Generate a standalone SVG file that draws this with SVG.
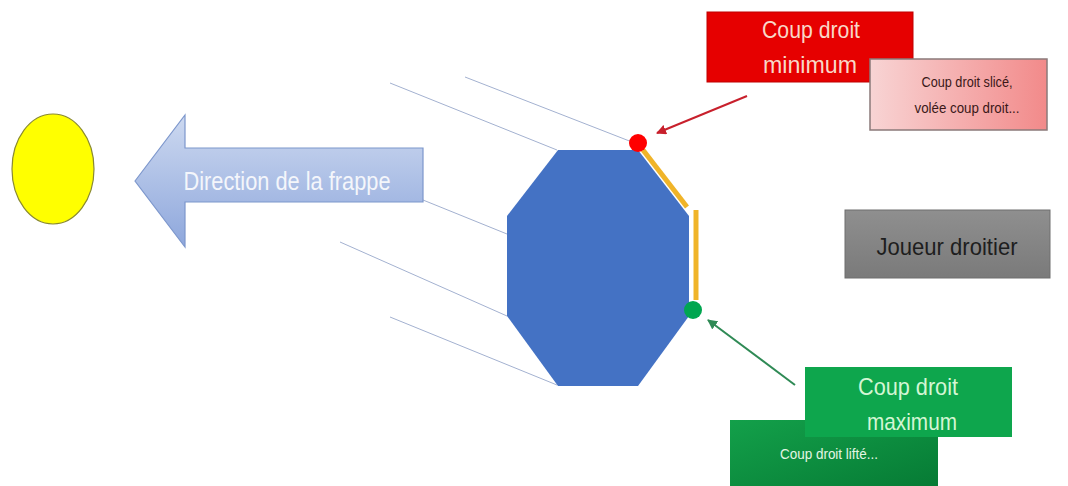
<svg xmlns="http://www.w3.org/2000/svg" width="1068" height="486" viewBox="0 0 1068 486">
  <defs>
    <linearGradient id="gArrow" x1="0" y1="0" x2="0" y2="1">
      <stop offset="0" stop-color="#cdd9f0"/>
      <stop offset="1" stop-color="#8ea7dc"/>
    </linearGradient>
    <linearGradient id="gPink" x1="0" y1="0" x2="1" y2="0">
      <stop offset="0" stop-color="#f8d4d4"/>
      <stop offset="1" stop-color="#f28a8a"/>
    </linearGradient>
    <linearGradient id="gGray" x1="0" y1="0" x2="0" y2="1">
      <stop offset="0" stop-color="#8f8f8f"/>
      <stop offset="1" stop-color="#7a7a7a"/>
    </linearGradient>
    <linearGradient id="gDarkGreen" x1="0" y1="0" x2="1" y2="1">
      <stop offset="0" stop-color="#13a04a"/>
      <stop offset="1" stop-color="#067a34"/>
    </linearGradient>
    <marker id="mRed" viewBox="0 0 10 10" refX="9" refY="5" markerWidth="5" markerHeight="5" orient="auto">
      <path d="M0,0 L10,5 L0,10 z" fill="#c8202c"/>
    </marker>
    <marker id="mGreen" viewBox="0 0 10 10" refX="9" refY="5" markerWidth="5" markerHeight="5" orient="auto">
      <path d="M0,0 L10,5 L0,10 z" fill="#2f8a55"/>
    </marker>
  </defs>
  <style>
    text { font-family: "Liberation Sans", "Open Sans", sans-serif; }
    .big { font-size: 24px; text-anchor: middle; }
    .small { font-size: 15px; }
    .trail { stroke: #a3b1d0; stroke-width: 1; fill: none; }
    .edge { stroke: #f0b429; stroke-width: 5; fill: none; }
  </style>
  <rect width="1068" height="486" fill="#ffffff"/>

  <!-- motion trails of the racket -->
  <g id="trails">
    <line class="trail" x1="390" y1="83" x2="557" y2="150"/>
    <line class="trail" x1="465" y1="77" x2="632" y2="142"/>
    <line class="trail" x1="423" y1="200" x2="507" y2="234"/>
    <line class="trail" x1="340" y1="242" x2="507" y2="316"/>
    <line class="trail" x1="390" y1="317" x2="557" y2="385"/>
  </g>

  <!-- ball -->
  <g id="ball">
    <ellipse cx="53" cy="169" rx="41" ry="55" fill="#ffff00" stroke="#8a8a30" stroke-width="1.2"/>
  </g>

  <!-- direction arrow -->
  <g id="direction">
    <path d="M135,181 L185,115 L185,148 L423,148 L423,202 L185,202 L185,247 Z" fill="url(#gArrow)" stroke="#7d97cc" stroke-width="1.2"/>
    <text x="287" y="190" font-size="25" fill="#f4f6fb" text-anchor="middle" textLength="207" lengthAdjust="spacingAndGlyphs">Direction de la frappe</text>
  </g>

  <!-- racket head -->
  <g id="racket">
    <polygon points="558,150 638,150 689,216 689,316 638,386 558,386 507,316 507,216" fill="#4472c4"/>
    <line class="edge" x1="643" y1="150" x2="687" y2="207"/>
    <line class="edge" x1="696" y1="210" x2="696" y2="300"/>
    <circle cx="638" cy="143" r="9" fill="#ff0000"/>
    <circle cx="693" cy="310" r="9" fill="#00a650"/>
  </g>

  <!-- pointers -->
  <g id="connectors">
    <line x1="747" y1="96" x2="657" y2="133" stroke="#c8202c" stroke-width="2" marker-end="url(#mRed)"/>
    <line x1="795" y1="385" x2="708" y2="320" stroke="#2f8a55" stroke-width="2" marker-end="url(#mGreen)"/>
  </g>

  <!-- minimum label -->
  <g id="minimum">
    <rect x="707" y="12" width="206" height="70" fill="#e60000" stroke="#c00000" stroke-width="1"/>
    <text class="big" x="811" y="38" fill="#f8d8c8" textLength="98" lengthAdjust="spacingAndGlyphs">Coup droit</text>
    <text class="big" x="810" y="73" fill="#f8d8c8" textLength="94" lengthAdjust="spacingAndGlyphs">minimum</text>
  </g>

  <g id="slice">
    <rect x="870" y="59" width="177" height="71" fill="url(#gPink)" stroke="#8a7a7a" stroke-width="1.5"/>
    <text class="small" x="967" y="87" fill="#3a1818" text-anchor="middle" textLength="91" lengthAdjust="spacingAndGlyphs">Coup droit slicé,</text>
    <text class="small" x="967" y="113" fill="#3a1818" text-anchor="middle" textLength="105" lengthAdjust="spacingAndGlyphs">volée coup droit...</text>
  </g>

  <!-- player -->
  <g id="player">
    <rect x="845" y="210" width="205" height="68" fill="url(#gGray)" stroke="#6e6e6e" stroke-width="1"/>
    <text class="big" x="947" y="255" fill="#1e1e1e" textLength="141" lengthAdjust="spacingAndGlyphs">Joueur droitier</text>
  </g>

  <!-- topspin label -->
  <g id="lift">
    <rect x="730" y="420" width="208" height="70" fill="url(#gDarkGreen)"/>
    <text class="small" x="780" y="459" fill="#e4f6e4" textLength="98" lengthAdjust="spacingAndGlyphs">Coup droit lifté...</text>
  </g>

  <!-- maximum label -->
  <g id="maximum">
    <rect x="805" y="367" width="207" height="70" fill="#0ea64d"/>
    <text class="big" x="908" y="395" fill="#d4f6d4" textLength="100" lengthAdjust="spacingAndGlyphs">Coup droit</text>
    <text class="big" x="912" y="430" fill="#d4f6d4" textLength="90" lengthAdjust="spacingAndGlyphs">maximum</text>
  </g>
</svg>
